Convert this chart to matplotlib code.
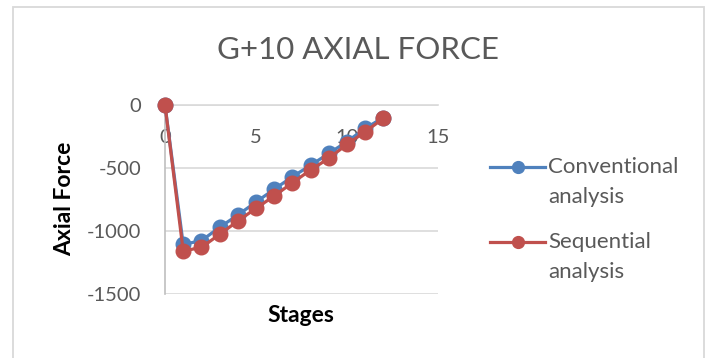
import matplotlib
matplotlib.use("Agg")
import matplotlib.pyplot as plt
from matplotlib.patches import Rectangle
from matplotlib.lines import Line2D

stages = [0, 1, 2, 3, 4, 5, 6, 7, 8, 9, 10, 11, 12]
conventional = [0, -1106, -1077, -971, -873, -770, -669, -569, -479, -384, -291, -185, -100]
sequential = [0, -1159, -1130, -1027, -921, -820, -722, -617, -516, -423, -312, -212, -106]
series_labels = ["Conventional\nanalysis", "Sequential\nanalysis"]

x_ticks = [0, 5, 10, 15]
y_ticks = [0, -500, -1000, -1500]

BLUE = "#4F81BD"
RED = "#C0504D"
GRAY_TEXT = "#595959"
GRID = "#D9D9D9"

plt.rcParams["font.family"] = ["Lato", "DejaVu Sans"]
plt.rcParams["axes.unicode_minus"] = False

W, H = 707, 358
fig = plt.figure(figsize=(W / 100, H / 100), dpi=100)


def fx(px):
    return px / W


def fy(py):
    return 1 - py / H


# chart area border
fig.patches.append(Rectangle((fx(13), -0.05), fx(704 - 13), (H - 7) / H + 0.05,
                             transform=fig.transFigure, fill=False,
                             edgecolor="#D9D9D9", linewidth=1.3))

ax = fig.add_axes([fx(165), fy(294), fx(438 - 165), (294 - 105) / H])
ax.set_xlim(0, 15)
ax.set_ylim(-1500, 0)
ax.set_xticks(x_ticks)
ax.set_yticks(y_ticks)

series = [(conventional, BLUE), (sequential, RED)]
for i, (vals, col) in enumerate(series):
    ax.plot(stages, vals, color=col, lw=2.3, marker="o", ms=10.5,
            zorder=3 + i, clip_on=False)

ax.grid(axis="y", color=GRID, lw=1.2)
ax.set_axisbelow(True)
for s in ["right", "bottom"]:
    ax.spines[s].set_visible(False)
ax.spines["top"].set_color(GRID)
ax.spines["top"].set_linewidth(1.2)
ax.spines["left"].set_color("#BFBFBF")
ax.spines["left"].set_linewidth(1.2)

ax.tick_params(axis="x", top=False, bottom=False, labeltop=False, labelbottom=False)
for xv in x_ticks:
    ax.text(xv, -260, str(xv), ha="center", va="center", fontsize=14.5,
            color=GRAY_TEXT, zorder=2)
ax.tick_params(axis="y", length=0, pad=17, labelsize=14.5, labelcolor=GRAY_TEXT)

fig.text(fx(358), fy(50), "G+10 AXIAL FORCE", ha="center", va="center",
         fontsize=22.5, color=GRAY_TEXT)
fig.text(fx(65), fy(199), "Axial Force", ha="center", va="center",
         rotation=90, fontsize=16.5, fontweight="bold", color="black")
fig.text(fx(301), fy(315), "Stages", ha="center", va="center",
         fontsize=16.5, fontweight="bold", color="black")

# legend: marker-on-line key with two-line labels
entry_tops = [167, 242]
for (vals, col), label, ytop in zip(series, series_labels, entry_tops):
    fig.add_artist(Line2D([fx(490), fx(545)], [fy(ytop), fy(ytop)],
                          transform=fig.transFigure, color=col, lw=2.3))
    fig.add_artist(Line2D([fx(517.5)], [fy(ytop)], transform=fig.transFigure,
                          color=col, marker="o", ms=8.5))
    for k, line in enumerate(label.split("\n")):
        fig.text(fx(548), fy(ytop + 30 * k), line, ha="left", va="center",
                 fontsize=16, color=GRAY_TEXT)

fig.savefig("out.png", dpi=100)
